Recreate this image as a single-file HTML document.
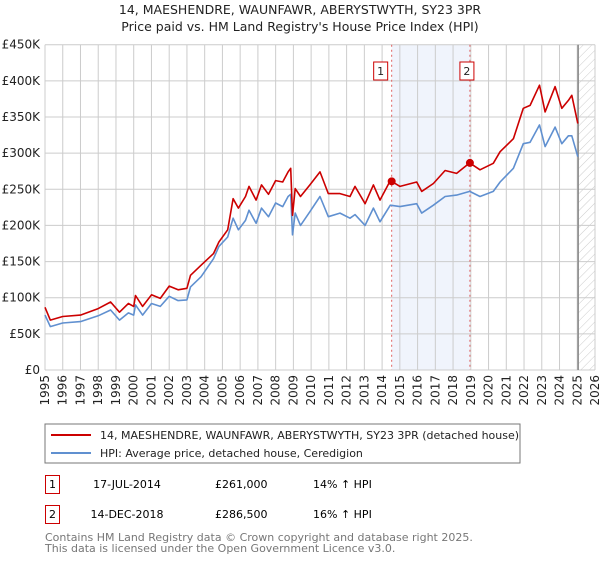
<!DOCTYPE html>
<html><head><meta charset="utf-8"><style>
body{margin:0;background:#fff;font-family:"Liberation Sans","DejaVu Sans",sans-serif;}
svg text{font-family:"DejaVu Sans","Liberation Sans",sans-serif;}
</style></head><body>
<svg id="c" width="600" height="560" xmlns="http://www.w3.org/2000/svg">
<defs><pattern id="hatch" width="6" height="6" patternUnits="userSpaceOnUse" patternTransform="rotate(45)"><line x1="0" y1="0" x2="0" y2="6" stroke="#ccc" stroke-width="1"/></pattern></defs>
<text x="300" y="14" text-anchor="middle" font-size="12.5" fill="#222">14, MAESHENDRE, WAUNFAWR, ABERYSTWYTH, SY23 3PR</text>
<text x="300" y="31" text-anchor="middle" font-size="12.5" fill="#222">Price paid vs. HM Land Registry's House Price Index (HPI)</text>
<g id="plot"></g>
<rect x="45" y="424" width="475" height="39" fill="#fff" stroke="#777"/>
<line x1="51" y1="435" x2="91" y2="435" stroke="#cc0000" stroke-width="2"/>
<text x="100" y="439" font-size="11" fill="#222">14, MAESHENDRE, WAUNFAWR, ABERYSTWYTH, SY23 3PR (detached house)</text>
<line x1="51" y1="453" x2="91" y2="453" stroke="#6090d0" stroke-width="2"/>
<text x="100" y="457" font-size="11" fill="#222">HPI: Average price, detached house, Ceredigion</text>
<g>
<rect x="45.5" y="475.5" width="14" height="18" fill="#fff" stroke="#cc0000"/><text x="52.5" y="488" text-anchor="middle" font-size="11">1</text>
<text x="127" y="488" text-anchor="middle" font-size="11">17-JUL-2014</text>
<text x="215" y="488" font-size="11">£261,000</text>
<text x="313" y="488" font-size="11">14% ↑ HPI</text></g>
<g>
<rect x="45.5" y="505.5" width="14" height="18" fill="#fff" stroke="#cc0000"/><text x="52.5" y="518" text-anchor="middle" font-size="11">2</text>
<text x="127" y="518" text-anchor="middle" font-size="11">14-DEC-2018</text>
<text x="215" y="518" font-size="11">£286,500</text>
<text x="313" y="518" font-size="11">16% ↑ HPI</text></g>
<text x="45" y="541" font-size="11" fill="#777">Contains HM Land Registry data © Crown copyright and database right 2025.</text>
<text x="45" y="552" font-size="11" fill="#777">This data is licensed under the Open Government Licence v3.0.</text>
</svg>
<script>
const yTicks=[0,50000,100000,150000,200000,250000,300000,350000,400000,450000];
const yTickLabels=["£0","£50K","£100K","£150K","£200K","£250K","£300K","£350K","£400K","£450K"];
const xYears=[1995,1996,1997,1998,1999,2000,2001,2002,2003,2004,2005,2006,2007,2008,2009,2010,2011,2012,2013,2014,2015,2016,2017,2018,2019,2020,2021,2022,2023,2024,2025,2026];
const redYears=[1995,1995.3,1996,1997,1998,1998.7,1999.2,1999.7,2000,2000.1,2000.5,2001,2001.5,2002,2002.5,2003,2003.2,2003.8,2004.5,2004.8,2005.3,2005.6,2005.9,2006.3,2006.5,2006.9,2007.2,2007.6,2008,2008.4,2008.7,2008.85,2008.95,2009.1,2009.4,2009.93,2010.5,2010.97,2011.63,2012.19,2012.47,2013.04,2013.51,2013.88,2014.46,2015.01,2015.95,2016.23,2016.89,2017.55,2018.2,2018.94,2019.52,2020.27,2020.65,2021.4,2021.96,2022.34,2022.87,2023.19,2023.75,2024.13,2024.5,2024.69,2025.03];
const redVals=[86700,69000,74000,76000,85000,94000,80000,92000,88000,103000,88000,104000,99000,116000,111000,113000,131000,145000,161000,177000,194000,237000,224000,240000,254000,235000,256000,243000,262000,260000,274000,279000,214000,251000,240000,256000,274000,244000,244000,240000,254000,230000,256000,235000,262000,254000,260000,247000,258000,276000,272000,286500,277000,286000,302000,320000,362000,366000,394000,357000,392000,362000,373000,380000,341000];
const hpiYears=redYears;
const hpiVals=[76000,60000,65000,67000,75000,83000,69000,79000,76000,90000,76000,92000,88000,102000,96000,97000,115000,129000,154000,171000,184000,210000,194000,207000,221000,203000,224000,212000,231000,226000,240000,243000,187000,217000,200000,219000,240000,212000,217000,210000,215000,200000,224000,205000,228000,226000,230000,217000,228000,240000,242000,247000,240000,247000,260000,279000,313000,315000,339000,309000,336000,313000,324000,324000,295000];
const sales=[{yr:2014.54,v:261000},{yr:2018.95,v:286500}];
const X0=45,X1=595,Y0=370,Y1=44.7;
const xs=y=>X0+(y-1995)/(2026-1995)*(X1-X0);
const ys=v=>Y0-v/450000*(Y0-Y1);
const NS="http://www.w3.org/2000/svg",g=document.getElementById('plot');
function mk(t,a){const e=document.createElementNS(NS,t);for(const k in a)e.setAttribute(k,a[k]);g.appendChild(e);return e;}
let e=mk('rect',{x:xs(sales[0].yr),y:Y1,width:xs(sales[1].yr)-xs(sales[0].yr),height:Y0-Y1,fill:'#f0f4fc'});


e=mk('rect',{x:xs(2025.05),y:Y1,width:X1-xs(2025.05),height:Y0-Y1,fill:'url(#hatch)'});


yTicks.forEach((t,i)=>{
 e=mk('line',{x1:X0,x2:X1,y1:ys(t),y2:ys(t),stroke:'#ccc'});
 
 
 e=mk('text',{x:40,y:ys(t)+4,'text-anchor':'end','font-size':12,fill:'#222'});e.textContent=yTickLabels[i];
 
 
});
xYears.forEach(yr=>{
 e=mk('line',{x1:xs(yr),x2:xs(yr),y1:Y1,y2:Y0,stroke:'#ccc'});
 
 
 e=mk('text',{x:0,y:0,'text-anchor':'end','font-size':12,fill:'#222',transform:`translate(${xs(yr)+4},375) rotate(-90)`});e.textContent=yr;
 
 
});
e=mk('line',{x1:xs(2025.05),x2:xs(2025.05),y1:Y1,y2:Y0,stroke:'#888','stroke-width':1.5});


sales.forEach((s,i)=>{
 e=mk('line',{x1:xs(s.yr),x2:xs(s.yr),y1:Y1,y2:Y0,stroke:'#e06060','stroke-dasharray':'2,3'});
 
 
 e=mk('rect',{x:xs(s.yr)-18,y:62,width:14,height:18,fill:'#fff',stroke:'#cc0000'});
 if(i==1)e.setAttribute('x',xs(s.yr)-10);
 
 
 e=mk('text',{x:(i==0?xs(s.yr)-11:xs(s.yr)-3),y:75,'text-anchor':'middle','font-size':11,fill:'#222'});e.textContent=i+1;
 
 
});
function line(yrs,vals,col,name){
 const d=yrs.map((y,i)=>(i?'L':'M')+xs(y).toFixed(1)+','+ys(vals[i]).toFixed(1)).join('');
 const p=mk('path',{d:d,fill:'none',stroke:col,'stroke-width':1.6,'stroke-linejoin':'round'});
 
 
}
line(hpiYears,hpiVals,'#6090d0','hpi-line');
line(redYears,redVals,'#cc0000','property-price-line');
sales.forEach(s=>{
 e=mk('circle',{cx:xs(s.yr),cy:ys(s.v),r:4,fill:'#cc0000'});
 
 
});
</script>
</body></html>
